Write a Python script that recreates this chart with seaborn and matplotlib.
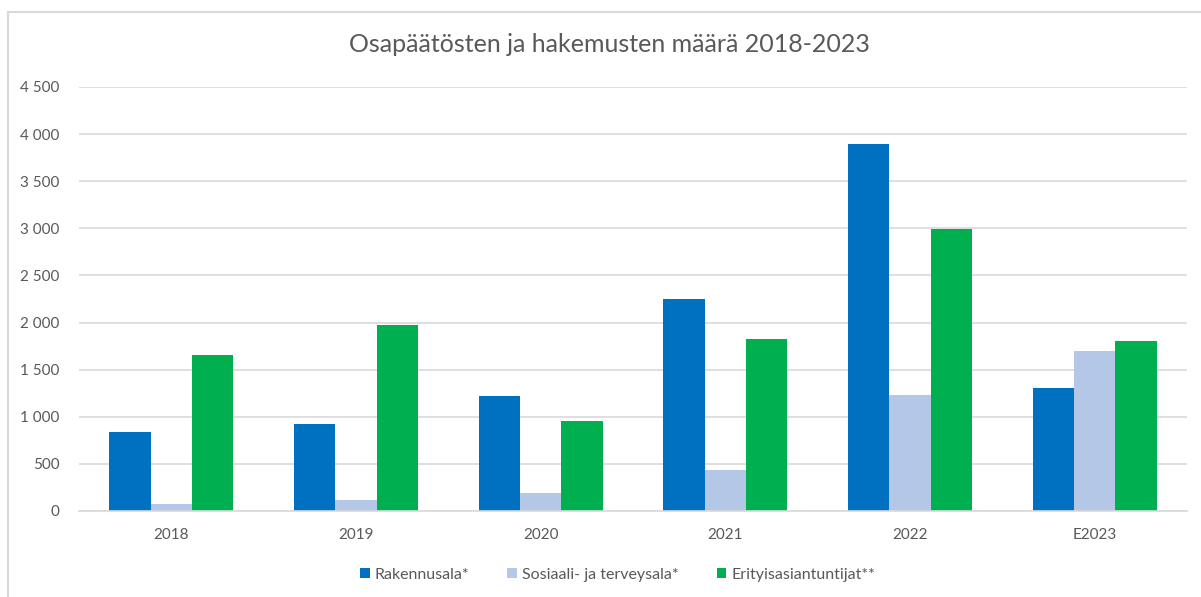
import pandas as pd
import seaborn as sns
import matplotlib.pyplot as plt
from matplotlib.patches import Rectangle
from matplotlib.ticker import FuncFormatter

# --- DATA ---
vuodet = ['2018', '2019', '2020', '2021', '2022', 'E2023']
sarjat = ['Rakennusala*', 'Sosiaali- ja terveysala*', 'Erityisasiantuntijat**']
rakennusala = [840, 925, 1220, 2250, 3900, 1305]
sosiaali_terveys = [75, 120, 190, 440, 1230, 1700]
erityis = [1655, 1970, 955, 1825, 2990, 1800]
varit = ['#0070C0', '#B4C7E7', '#00B050']

df = pd.DataFrame({
    'vuosi': vuodet * 3,
    'sarja': [s for s in sarjat for _ in vuodet],
    'arvo': rakennusala + sosiaali_terveys + erityis,
})

sns.set_style('white')
plt.rcParams['font.family'] = ['Lato', 'DejaVu Sans']

fig = plt.figure(figsize=(12.01, 5.97), dpi=100)
ax = fig.add_axes([79 / 1201, 1 - 511 / 597, (1187 - 79) / 1201, (511 - 87) / 597])

sns.barplot(data=df, x='vuosi', y='arvo', hue='sarja', order=vuodet, hue_order=sarjat,
            palette=varit, width=0.67, gap=0, saturation=1, linewidth=0, ax=ax, legend=True)

ax.set_ylim(0, 4500)
ax.set_xlim(-0.5, 5.5)
ax.set_yticks(range(0, 4501, 500))
ax.yaxis.set_major_formatter(FuncFormatter(lambda v, p: f'{int(v):,}'.replace(',', ' ')))
ax.grid(axis='y', color='#D9D9D9', linewidth=1.2)
ax.set_axisbelow(True)
for s in ['top', 'right', 'left']:
    ax.spines[s].set_visible(False)
ax.spines['bottom'].set_color('#D9D9D9')
ax.spines['bottom'].set_linewidth(1.2)
ax.tick_params(axis='both', length=0, labelsize=11, colors='#595959')
ax.tick_params(axis='x', pad=12)
ax.tick_params(axis='y', pad=14)
ax.set_xlabel('')
ax.set_ylabel('')

fig.text(609 / 1201, 1 - 45 / 597, 'Osapäätösten ja hakemusten määrä 2018-2023',
         ha='center', va='center', fontsize=18, color='#595959')

ax.legend(loc='center', bbox_to_anchor=(0.486, (511 - 575) / 424), ncol=3, frameon=False,
          fontsize=11.5, handlelength=0.6, handleheight=0.6, handletextpad=0.3, columnspacing=2.4,
          labelcolor='#595959')

# kehys
fig.patches.append(Rectangle((8 / 1201, -0.1), 1.2, 1 - 12 / 597 + 0.1, transform=fig.transFigure,
                             fill=False, edgecolor='#D9D9D9', linewidth=1.5))

fig.savefig('out.png', dpi=100)
